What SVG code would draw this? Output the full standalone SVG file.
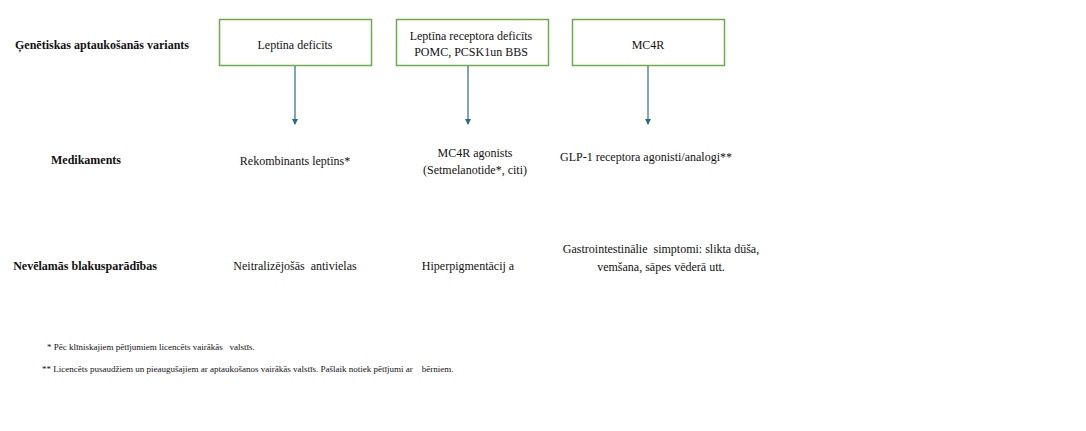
<svg xmlns="http://www.w3.org/2000/svg" width="1086" height="431" viewBox="0 0 1086 431">
<defs>
<marker id="ah" markerWidth="6" markerHeight="6" refX="5" refY="3" orient="auto" markerUnits="userSpaceOnUse">
<path d="M0,0 L6,3 L0,6 Z" fill="#2a6a8e"/>
</marker>
<style>
.box{fill:#fff;stroke:#6aad4a;stroke-width:1.5}
text{font-family:'Liberation Serif','Times New Roman','DejaVu Serif',serif;fill:#111;white-space:pre}
.t{font-size:12px;text-anchor:middle}
.b{font-size:12px;font-weight:bold;text-anchor:middle}
.f{font-size:9px}
.c{stroke:#2a6a8e;stroke-width:1.2;fill:none}
</style>
</defs>
<rect width="1086" height="431" fill="#fff"/>
<g id="row-labels">
<text class="b" x="102" y="49">Ģenētiskas aptaukošanās variants</text>
<text class="b" x="86" y="164">Medikaments</text>
<text class="b" x="85" y="270">Nevēlamās blakusparādības</text>
</g>
<g id="node-leptin">
<rect class="box" x="219.5" y="19.5" width="152" height="46"/>
<text class="t" x="295" y="49">Leptīna deficīts</text>
</g>
<g id="node-receptor">
<rect class="box" x="396.5" y="19.5" width="152" height="46"/>
<text class="t" x="471" y="40">Leptīna receptora deficīts</text>
<text class="t" x="471" y="56">POMC, PCSK1un BBS</text>
</g>
<g id="node-mc4r">
<rect class="box" x="572.5" y="19.5" width="152" height="46"/>
<text class="t" x="648" y="49">MC4R</text>
</g>
<g id="connectors">
<line class="c" x1="295" y1="66" x2="295" y2="124" marker-end="url(#ah)"/>
<line class="c" x1="468" y1="66" x2="468" y2="124" marker-end="url(#ah)"/>
<line class="c" x1="648" y1="66" x2="648" y2="124" marker-end="url(#ah)"/>
</g>
<g id="node-drug1">
<text class="t" x="295" y="165">Rekombinants leptīns*</text>
</g>
<g id="node-drug2">
<text class="t" x="475" y="157">MC4R agonists</text>
<text class="t" x="475" y="174">(Setmelanotide*, citi)</text>
</g>
<g id="node-drug3">
<text class="t" x="646" y="161">GLP-1 receptora agonisti/analogi**</text>
</g>
<g id="node-se1">
<text class="t" x="295" y="270" xml:space="preserve">Neitralizējošās  antivielas</text>
</g>
<g id="node-se2">
<text class="t" x="468" y="270">Hiperpigmentācij a</text>
</g>
<g id="node-se3">
<text class="t" x="661" y="253" xml:space="preserve">Gastrointestinālie  simptomi: slikta dūša,</text>
<text class="t" x="661" y="271">vemšana, sāpes vēderā utt.</text>
</g>
<g id="footnotes">
<text class="f" x="47" y="350" xml:space="preserve">* Pēc klīniskajiem pētījumiem licencēts vairākās   valstīs.</text>
<text class="f" x="42" y="372" xml:space="preserve">** Licencēts pusaudžiem un pieaugušajiem ar aptaukošanos vairākās valstīs. Pašlaik notiek pētījumi ar    bērniem.</text>
</g>
</svg>
